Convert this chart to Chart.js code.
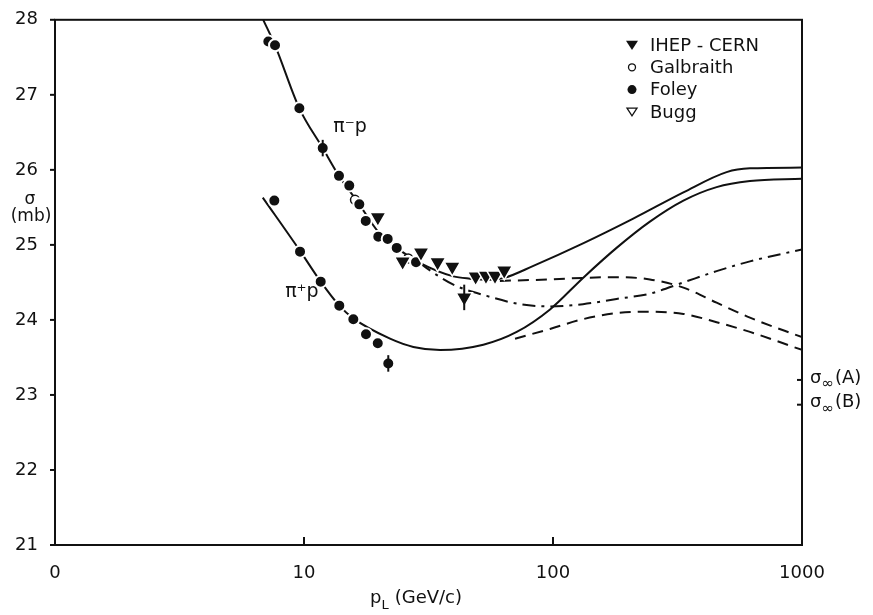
<!DOCTYPE html>
<html>
<head>
<meta charset="utf-8">
<script src="https://cdn.jsdelivr.net/npm/chart.js@4.4.1/dist/chart.umd.min.js"></script>
<style>
  html, body { margin: 0; padding: 0; background: #fff; }
  #wrap { width: 873px; height: 615px; }
</style>
</head>
<body>
<div id="wrap"><canvas id="sigma"></canvas></div>
<script>
// axis ticks
const xTicks = [1, 10, 100, 1000];
const xTickNames = ["0", "10", "100", "1000"];

// Foley, pi- p
const foleyMinusP = [7.19, 7.65, 9.58, 11.89, 13.82, 15.2, 16.68, 17.7, 19.88, 21.68, 23.57, 28.18];
const foleyMinusSig = [27.71, 27.66, 26.82, 26.29, 25.92, 25.79, 25.54, 25.32, 25.11, 25.08, 24.96, 24.77];
const foleyMinusErr = [0, 0, 0, 0.11, 0, 0, 0, 0, 0, 0, 0, 0];

// Foley, pi+ p
const foleyPlusP = [7.6, 9.64, 11.67, 13.86, 15.78, 17.74, 19.78, 21.8];
const foleyPlusSig = [25.59, 24.91, 24.51, 24.19, 24.01, 23.81, 23.69, 23.42];
const foleyPlusErr = [0, 0, 0, 0, 0, 0, 0, 0.11];

// IHEP-CERN, pi- p
const ihepP = [19.8, 24.9, 29.5, 34.4, 39.4, 44.0, 48.9, 53.8, 58.5, 63.7];
const ihepSig = [25.37, 24.78, 24.9, 24.77, 24.71, 24.3, 24.58, 24.59, 24.59, 24.66];
const ihepErr = [0, 0, 0, 0, 0, 0.17, 0, 0, 0, 0];

// Galbraith, pi- p
const galbP = [16.03, 26.2];
const galbSig = [25.6, 24.82];

// Bugg (none visible in range)
const buggP = [];
const buggSig = [];

// fitted curves
const curveMinusP = [6.86, 7.65, 9.58, 11.89, 13.82, 16.6, 19.8, 23.6, 29.2, 39.8, 46.4, 55.8, 63.7, 83.4, 132, 210, 334, 498, 618, 1000];
const curveMinusSig = [28.0, 27.66, 26.82, 26.29, 25.92, 25.55, 25.18, 24.96, 24.76, 24.58, 24.55, 24.535, 24.56, 24.72, 25.02, 25.35, 25.7, 25.97, 26.02, 26.03];

const curvePlusP = [6.83, 9.64, 11.67, 13.86, 15.78, 22.16, 27.48, 35.2, 52.5, 71.5, 97.3, 132, 180, 245, 334, 454, 618, 1000];
const curvePlusSig = [25.63, 24.92, 24.51, 24.19, 24.02, 23.75, 23.64, 23.6, 23.67, 23.84, 24.14, 24.56, 24.96, 25.31, 25.59, 25.77, 25.85, 25.88];

const dashUpP = [61.2, 97.3, 132, 180, 245, 334, 454, 618, 1000];
const dashUpSig = [24.52, 24.54, 24.56, 24.57, 24.54, 24.43, 24.23, 24.03, 23.77];

const dashLowP = [70.4, 97.3, 132, 180, 245, 334, 454, 618, 1000];
const dashLowSig = [23.75, 23.88, 24.01, 24.09, 24.11, 24.08, 23.97, 23.84, 23.6];

const dashDotP = [29.2, 31.1, 39.8, 54.2, 73.7, 97.3, 132, 180, 245, 334, 454, 618, 1000];
const dashDotSig = [24.76, 24.69, 24.47, 24.32, 24.21, 24.18, 24.21, 24.28, 24.35, 24.5, 24.65, 24.78, 24.94];

// asymptotic values on right axis
const sigInfNames = ["A", "B"];
const sigInfVals = [23.2, 22.87];

// curve labels
const curveLabels = ["π⁻p", "π⁺p"];
const curveLabelP = [13.1, 8.4];
const curveLabelSig = [26.5, 24.3];

// legend
const legendNames = ["IHEP - CERN", "Galbraith", "Foley", "Bugg"];

const INK = "#111";
const FONT = "'DejaVu Sans', sans-serif";

function pts(p, s) {
  return p.map((v, i) => ({ x: v, y: s[i] }));
}

function curve(p, s, dash) {
  return {
    type: "line",
    data: pts(p, s),
    borderColor: INK,
    borderWidth: 2,
    borderDash: dash,
    pointRadius: 0,
    fill: false,
    cubicInterpolationMode: "monotone",
    order: 10
  };
}

function marks(p, s, style, opt) {
  return Object.assign({
    type: "scatter",
    data: pts(p, s),
    pointStyle: style,
    pointRadius: 6,
    pointBackgroundColor: INK,
    pointBorderColor: "#fff",
    pointBorderWidth: 2,
    order: 1
  }, opt || {});
}

const errSets = [
  { p: foleyMinusP, s: foleyMinusSig, e: foleyMinusErr },
  { p: foleyPlusP, s: foleyPlusSig, e: foleyPlusErr },
  { p: ihepP, s: ihepSig, e: ihepErr }
];

function tri(ctx, x, y, r, down) {
  const k = down ? 1 : -1;
  ctx.beginPath();
  ctx.moveTo(x - r, y - k * r * 0.55);
  ctx.lineTo(x + r, y - k * r * 0.55);
  ctx.lineTo(x, y + k * r * 1.0);
  ctx.closePath();
}

const overlay = {
  id: "overlay",
  afterDatasetsDraw(chart) {
    const { ctx, scales: { x, y } } = chart;
    ctx.save();
    ctx.strokeStyle = INK;
    ctx.lineWidth = 2;
    errSets.forEach(set => {
      set.p.forEach((p, i) => {
        if (!set.e[i]) return;
        const px = x.getPixelForValue(p);
        ctx.beginPath();
        ctx.moveTo(px, y.getPixelForValue(set.s[i] - set.e[i]));
        ctx.lineTo(px, y.getPixelForValue(set.s[i] + set.e[i]));
        ctx.stroke();
      });
    });
    ctx.restore();
  },
  afterDraw(chart) {
    const { ctx, chartArea: a, scales: { x, y } } = chart;
    ctx.save();
    ctx.strokeStyle = INK;
    ctx.fillStyle = INK;
    ctx.lineWidth = 2;
    // frame
    ctx.strokeRect(a.left, a.top, a.right - a.left, a.bottom - a.top);
    // y ticks, outward
    for (let v = 21; v <= 28; v++) {
      const py = y.getPixelForValue(v);
      ctx.beginPath();
      ctx.moveTo(a.left - 5, py);
      ctx.lineTo(a.left, py);
      ctx.stroke();
    }
    // x ticks, inward
    xTicks.slice(1, 3).forEach(v => {
      const px = x.getPixelForValue(v);
      ctx.beginPath();
      ctx.moveTo(px, a.bottom);
      ctx.lineTo(px, a.bottom - 8);
      ctx.stroke();
    });
    // sigma infinity marks on right axis
    sigInfVals.forEach((v, i) => {
      const py = y.getPixelForValue(v);
      ctx.beginPath();
      ctx.moveTo(a.right - 5, py);
      ctx.lineTo(a.right, py);
      ctx.stroke();
      ctx.textBaseline = "middle";
      ctx.textAlign = "left";
      ctx.font = "18px " + FONT;
      let tx = a.right + 8;
      ctx.fillText("σ", tx, py - 2);
      tx += ctx.measureText("σ").width;
      ctx.font = "15px " + FONT;
      ctx.fillText("∞", tx, py + 4);
      tx += ctx.measureText("∞").width + 1;
      ctx.font = "18px " + FONT;
      ctx.fillText("(" + sigInfNames[i] + ")", tx, py - 2);
    });
    // y title
    ctx.textAlign = "center";
    ctx.textBaseline = "alphabetic";
    ctx.font = "17px " + FONT;
    ctx.fillText("σ", 30, 204);
    ctx.fillText("(mb)", 31, 221);
    // x title
    ctx.textAlign = "left";
    ctx.font = "18px " + FONT;
    let tx = 370;
    ctx.fillText("p", tx, 603);
    tx += ctx.measureText("p").width;
    ctx.font = "13px " + FONT;
    ctx.fillText("L", tx, 609);
    tx += ctx.measureText("L").width + 6;
    ctx.font = "18px " + FONT;
    ctx.fillText("(GeV/c)", tx, 603);
    // curve labels
    curveLabels.forEach((t, i) => {
      ctx.font = "19px " + FONT;
      ctx.fillText(t, x.getPixelForValue(curveLabelP[i]), y.getPixelForValue(curveLabelSig[i]));
    });
    // legend
    const lx = 632, ly = 45, dy = 22.3;
    ctx.font = "18px " + FONT;
    ctx.textBaseline = "middle";
    legendNames.forEach((t, i) => {
      const cy = ly + i * dy;
      ctx.fillText(t, lx + 18, cy + 1);
    });
    tri(ctx, lx, ly - 1, 6, true); ctx.fill();
    ctx.lineWidth = 1.3;
    ctx.beginPath(); ctx.arc(lx, ly + dy, 3.5, 0, Math.PI * 2); ctx.stroke();
    ctx.beginPath(); ctx.arc(lx, ly + 2 * dy, 4.5, 0, Math.PI * 2); ctx.fill();
    tri(ctx, lx, ly + 3 * dy - 1, 5, true); ctx.stroke();
    ctx.restore();
  }
};

const ctx = document.getElementById("sigma").getContext("2d");

const chart = new Chart(ctx, {
  type: "scatter",
  data: {
    datasets: [
      marks(ihepP, ihepSig, "triangle", { rotation: 180, pointRadius: 9.5, pointBorderWidth: 1.5 }),
      marks(foleyMinusP, foleyMinusSig, "circle"),
      marks(foleyPlusP, foleyPlusSig, "circle"),
      marks(galbP, galbSig, "circle", { pointRadius: 4.5, pointBackgroundColor: "#fff", pointBorderColor: INK, pointBorderWidth: 1.5 }),
      marks(buggP, buggSig, "triangle", { rotation: 180, pointRadius: 9.5, pointBackgroundColor: "#fff", pointBorderColor: INK, pointBorderWidth: 1.5 }),
      curve(curveMinusP, curveMinusSig, []),
      curve(curvePlusP, curvePlusSig, []),
      curve(dashUpP, dashUpSig, [11, 7]),
      curve(dashLowP, dashLowSig, [11, 7]),
      curve(dashDotP, dashDotSig, [13, 6, 3, 6])
    ]
  },
  options: {
    responsive: true,
    maintainAspectRatio: false,
    animation: false,
    events: [],
    layout: { padding: { top: 14, right: 71, bottom: 0, left: 0 } },
    plugins: {
      legend: { display: false },
      tooltip: { enabled: false }
    },
    scales: {
      x: {
        type: "logarithmic",
        min: 1,
        max: 1000,
        grid: { display: false },
        border: { display: false },
        afterBuildTicks: s => { s.ticks = xTicks.map(v => ({ value: v })); },
        afterFit: s => { s.height = 70; },
        ticks: {
          color: INK,
          padding: 10,
          maxRotation: 0,
          autoSkip: false,
          font: { family: FONT, size: 18 },
          callback: v => xTickNames[xTicks.indexOf(v)]
        }
      },
      y: {
        min: 21,
        max: 28,
        grid: { display: false },
        border: { display: false },
        afterFit: s => { s.width = 55; },
        ticks: {
          color: INK,
          stepSize: 1,
          padding: 9,
          font: { family: FONT, size: 18 }
        }
      }
    }
  },
  plugins: [overlay]
});
</script>
</body>
</html>
